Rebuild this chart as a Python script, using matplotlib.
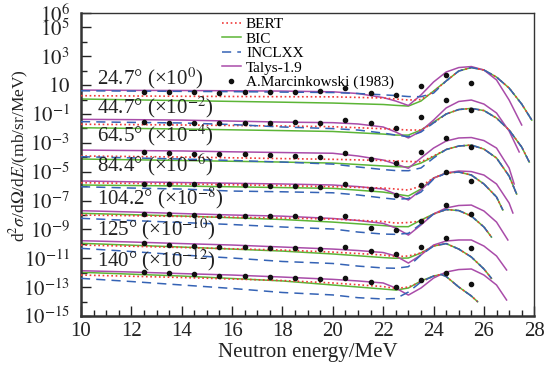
import numpy as np
import matplotlib
matplotlib.use('Agg')
import matplotlib.pyplot as plt
from matplotlib.ticker import FixedLocator, NullFormatter

plt.rcParams['font.family'] = 'Liberation Serif'
plt.rcParams['mathtext.fontset'] = 'stix'

# emission angles and the power of ten each spectrum is multiplied by
angles = ['24.7', '44.7', '64.5', '84.4', '104.2', '125', '140']
scale_exp = [0, -2, -4, -6, -8, -10, -12]

# all spectra below are log10 of d2sigma/dOmega/dE in mb/sr/MeV (unscaled)

# A.Marcinkowski (1983)
exp_e = [12.5, 13.5, 14.5, 15.5, 16.5, 17.5, 18.5, 19.5, 20.5, 21.5, 22.5, 23.5, 24.5, 25.5]
exp_lg = [
    [0.54, 0.54, 0.54, 0.45, 0.52, 0.52, 0.54, 0.61, 0.78, 0.49, 0.32, 0.96, 1.70, 1.13],
    [0.42, 0.40, 0.40, 0.35, 0.35, 0.35, 0.42, 0.35, 0.58, 0.40, 0.01, 0.77, 2.00, 1.28],
    [0.39, 0.28, 0.23, 0.23, 0.23, 0.16, 0.09, 0.04, 0.32, -0.14, -0.38, 0.39, 1.37, 0.71],
    [0.15, 0.13, 0.13, 0.08, 0.08, 0.03, 0.03, -0.04, 0.15, -0.20, -0.61, 0.08, 1.00, 0.36],
    [0.07, 0.07, 0.03, -0.04, -0.07, -0.07, -0.10, -0.23, -0.05, -0.88, -1.04, -0.40, 0.69, 0.05],
    [0.04, -0.08, -0.15, -0.20, -0.24, -0.31, -0.31, -0.36, -0.20, -0.48, -0.70, -0.24, 0.39, -0.31],
    [0.07, -0.04, -0.11, -0.23, -0.23, -0.32, -0.39, -0.44, -0.39, -0.62, -1.01, -0.51, -0.04, -0.80],
]

# Geant4 BERT
bert_e = [10, 14, 18, 20, 22, 22.5, 23, 23.5, 24]
bert_lg = [
    [0.27, 0.23, 0.20, 0.19, 0.11, 0.04, -0.03, 0.00, 0.55],
    [0.29, 0.24, 0.17, 0.12, -0.02, -0.06, -0.11, -0.11, 0.38],
    [0.09, 0.02, -0.09, -0.14, -0.22, -0.25, -0.29, -0.31, 0.09],
    [0.24, 0.15, 0.04, -0.04, -0.13, -0.20, -0.27, 0.01, 0.56],
    [0.00, -0.10, -0.21, -0.28, -0.45, -0.56, -0.52, -0.42, 0.07],
    [-0.08, -0.25, -0.43, -0.57, -0.77, -0.89, -0.84, -0.63, -0.15],
    [-0.16, -0.33, -0.54, -0.71, -0.96, -1.09, -0.99, -0.64, -0.23],
]

# Geant4 BIC
bic_e = [10, 14, 18, 20, 22, 22.5, 23, 23.5, 24]
bic_lg = [
    [0.04, -0.07, -0.18, -0.24, -0.34, -0.40, -0.45, -0.10, 0.59],
    [0.05, -0.04, -0.15, -0.21, -0.39, -0.46, -0.46, -0.11, 0.44],
    [-0.12, -0.22, -0.33, -0.40, -0.60, -0.65, -0.67, -0.40, 0.05],
    [0.08, 0.01, -0.10, -0.15, -0.41, -0.55, -0.68, -0.20, 0.56],
    [0.12, -0.07, -0.31, -0.49, -0.73, -0.80, -0.81, -0.35, 0.07],
    [0.04, -0.22, -0.50, -0.70, -0.95, -1.00, -0.98, -0.63, -0.15],
    [0.03, -0.23, -0.57, -0.85, -1.13, -1.20, -1.06, -0.57, -0.23],
]

# Geant4 INCLXX
incl_e = [10, 12, 14, 16, 18, 20, 21, 22, 22.5, 23, 23.5, 24]
incl_lg = [
    [0.61, 0.59, 0.57, 0.55, 0.52, 0.49, 0.42, 0.33, 0.28, 0.21, 0.20, 0.45],
    [0.47, 0.42, 0.38, 0.27, 0.10, -0.01, -0.11, -0.32, -0.46, -0.57, -0.25, 0.38],
    [0.04, -0.04, -0.12, -0.22, -0.33, -0.47, -0.67, -0.85, -0.92, -0.93, -0.74, -0.05],
    [-0.04, -0.13, -0.20, -0.34, -0.39, -0.46, -0.61, -0.82, -0.91, -0.86, -0.41, 0.49],
    [-0.23, -0.38, -0.52, -0.66, -0.83, -0.97, -1.18, -1.32, -1.34, -1.27, -0.62, 0.07],
    [-0.31, -0.53, -0.77, -0.98, -1.22, -1.36, -1.54, -1.67, -1.69, -1.58, -0.77, -0.15],
    [-0.39, -0.61, -0.85, -1.09, -1.37, -1.54, -1.73, -1.82, -1.79, -1.34, -0.64, -0.23],
]

# elastic-like peak, identical for the three Geant4 models
peak_e = [
    [24.5, 25, 25.5, 26, 26.5, 27, 27.5, 27.9],
    [24.5, 25, 25.5, 26, 26.5, 27, 27.5, 27.8],
    [24.5, 25, 25.5, 26, 26.5, 27, 27.3],
    [24.5, 25, 25.5, 26, 26.5, 26.75],
    [24.5, 25, 25.5, 26, 26.3],
    [24.5, 25, 25.5, 26, 26.3],
    [24.3, 24.5, 25, 25.5, 25.75],
]
peak_lg = [
    [1.29, 1.98, 2.22, 2.05, 1.56, 0.80, -0.31, -1.42],
    [1.00, 1.31, 1.39, 1.24, 0.72, -0.11, -1.29, -2.33],
    [0.54, 0.78, 0.85, 0.57, -0.05, -1.30, -2.55],
    [0.91, 0.98, 0.77, 0.15, -0.75, -1.65],
    [0.38, 0.31, -0.07, -0.83, -1.53],
    [0.02, -0.36, -0.91, -1.74, -2.39],
    [-0.12, -0.26, -0.99, -1.61, -2.01],
]

# Talys-1.9
talys_e = [10, 12, 14, 16, 18, 20, 21, 22, 22.5, 23, 23.5, 24, 24.5, 25, 25.5, 26, 26.5]
talys_lg = [
    [0.66, 0.64, 0.63, 0.61, 0.59, 0.54, 0.42, 0.14, -0.10, -0.41, 0.32, 1.22, 1.91, 2.22, 2.29, 2.05, 1.36],
    [0.63, 0.61, 0.58, 0.51, 0.44, 0.40, 0.31, 0.10, -0.25, -0.66, -0.18, 0.58, 1.42, 1.87, 1.97, 1.69, 1.07],
    [0.50, 0.47, 0.44, 0.38, 0.33, 0.28, 0.09, -0.19, -0.47, -0.76, -0.05, 0.64, 1.13, 1.34, 1.37, 1.16, 0.64],
    [0.36, 0.30, 0.25, 0.20, 0.15, 0.08, -0.03, -0.20, -0.55, -0.96, -0.27, 0.56, 0.91, 1.05, 1.01, 0.77, 0.15],
    [0.30, 0.21, 0.10, 0.00, -0.08, -0.24, -0.38, -0.58, -0.90, -1.39, -0.69, 0.07, 0.49, 0.66, 0.69, 0.28, -0.49],
    [0.22, 0.13, 0.02, -0.08, -0.22, -0.36, -0.46, -0.60, -0.84, -1.33, -0.77, -0.08, 0.20, 0.27, 0.27, -0.15, -0.84],
    [0.14, 0.05, -0.06, -0.16, -0.30, -0.46, -0.57, -0.71, -1.06, -1.55, -1.06, -0.37, 0.05, 0.22, 0.26, -0.16, -0.85],
]
talys_tail_e = [[27, 27.5], [27, 27.4], [27, 27.2], [27, 27.15], [26.95], [26.9], [26.9]]
talys_tail_lg = [[-0.03, -1.76], [-0.18, -1.63], [-0.74, -1.85], [-1.17, -1.86], [-1.73], [-1.81], [-1.89]]

# text positions of the angle labels (axes fraction)
label_y = [0.7855, 0.6898, 0.5974, 0.4983, 0.3894, 0.2871, 0.1848]

c_bert = '#f03a3a'
c_bic = '#5cb536'
c_incl = '#3563b5'
c_talys = '#a94ca9'

fig = plt.figure(figsize=(5.55, 3.72), dpi=100)
ax = fig.add_axes([0.1459, 0.1505, 0.8168, 0.8145])

for i in range(len(angles)):
    f = 10.0 ** scale_exp[i]
    pe = np.array(peak_e[i])
    pl = np.array(peak_lg[i])

    x = np.concatenate([bic_e, pe])
    y = 10 ** np.concatenate([bic_lg[i], pl]) * f
    ax.plot(x, y, color=c_bic, lw=1.1, label='BIC' if i == 0 else None, zorder=2)

    x = np.concatenate([bert_e, pe])
    y = 10 ** np.concatenate([bert_lg[i], pl]) * f
    ax.plot(x, y, color=c_bert, lw=1.2, ls=(0, (1, 1.6)), label='BERT' if i == 0 else None, zorder=3)

    x = np.concatenate([incl_e, pe])
    y = 10 ** np.concatenate([incl_lg[i], pl]) * f
    ax.plot(x, y, color=c_incl, lw=1.1, ls=(0, (6, 4)), label='INCLXX' if i == 0 else None, zorder=3)

    x = np.concatenate([talys_e, talys_tail_e[i]])
    y = 10 ** np.concatenate([talys_lg[i], talys_tail_lg[i]]) * f
    ax.plot(x, y, color=c_talys, lw=1.1, label='Talys-1.9' if i == 0 else None, zorder=2)

    ax.plot(exp_e, 10 ** np.array(exp_lg[i]) * f, 'o', color='#111111', ms=3,
            label='A.Marcinkowski (1983)' if i == 0 else None, zorder=4)

    ax.text(0.035, label_y[i], f'{angles[i]}° (×10$^{{{scale_exp[i]}}}$)',
            transform=ax.transAxes, fontsize=15, va='center', ha='left', color='#222222')

ax.set_yscale('log')
ax.set_xlim(10, 28)
ax.set_ylim(1e-15, 1e6)

ax.set_xticks(np.arange(10, 29, 2))
ax.set_xticks(np.arange(10, 28.01, 0.5), minor=True)

ymaj = [6, 5, 3, 1, -1, -3, -5, -7, -9, -11, -13, -15]
ax.yaxis.set_major_locator(FixedLocator([10.0 ** k for k in ymaj]))
ax.set_yticklabels(['$10$' if k == 1 else f'$10^{{{k}}}$' for k in ymaj])
ax.yaxis.set_minor_locator(FixedLocator([10.0 ** k for k in range(-15, 7) if k not in ymaj]))
ax.yaxis.set_minor_formatter(NullFormatter())

ax.tick_params(which='both', direction='in', top=False, right=False, labelsize=15,
               colors='#222222', width=1)
ax.tick_params(which='major', length=7)
ax.tick_params(which='minor', length=4)
ax.tick_params(axis='y', pad=8)
ax.tick_params(axis='x', pad=4)

for s in ['left', 'bottom']:
    ax.spines[s].set_linewidth(1.8)
    ax.spines[s].set_color('#333333')
for s in ['top', 'right']:
    ax.spines[s].set_linewidth(1.0)
    ax.spines[s].set_color('#333333')

ax.set_xlabel('Neutron energy/MeV', fontsize=15, color='#222222', labelpad=2)
ax.set_ylabel(r'd$^2\sigma$/d$\mathit{\Omega}$/d$E$/(mb/sr/MeV)', fontsize=12.5,
              color='#222222')
ax.yaxis.set_label_coords(-0.11, 0.53)

h, l = ax.get_legend_handles_labels()
order = [l.index(n) for n in ['BERT', 'BIC', 'INCLXX', 'Talys-1.9', 'A.Marcinkowski (1983)']]
ax.legend([h[k] for k in order], [l[k] for k in order], loc='upper left',
          bbox_to_anchor=(0.3, 1.0), frameon=False, fontsize=11, handlelength=1.3,
          handletextpad=0.3, labelspacing=0.05, borderpad=0.1, borderaxespad=0.2)

fig.savefig('out.png', dpi=100)
